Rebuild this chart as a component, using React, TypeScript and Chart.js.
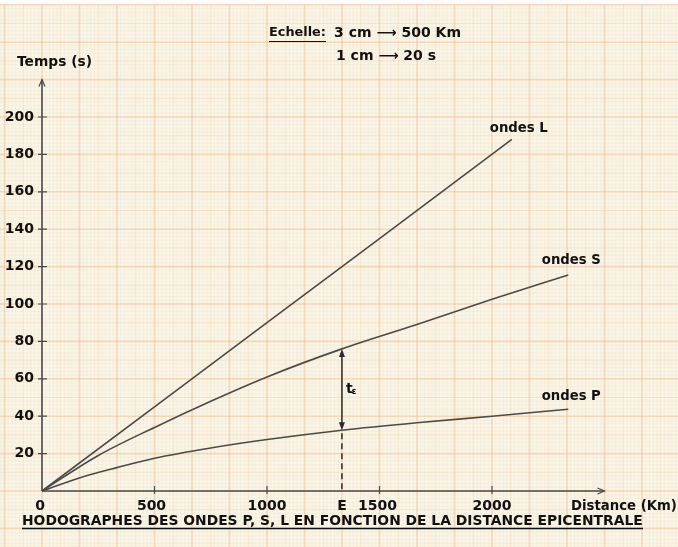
import React, { useEffect, useRef } from "react";
import { Chart, registerables } from "chart.js";

Chart.register(...registerables);

// ---- data (km, s) ----
const distancesL = [0, 500, 1000, 1500, 2088];
const tempsL = [0, 45, 90, 135, 188];
const distancesS = [0, 250, 500, 750, 1000, 1333, 1666, 2000, 2339];
const tempsS = [0, 19, 34, 48, 61, 76, 89, 102.5, 115.5];
const distancesP = [0, 166, 333, 500, 750, 1000, 1333, 1666, 2000, 2339];
const tempsP = [0, 7, 12.5, 17.5, 23, 27.5, 32.5, 36.5, 40, 43.7];
const xTicks = [0, 500, 1000, 1500, 2000];
const yTicks = [20, 40, 60, 80, 100, 120, 140, 160, 180, 200];
const epicentreKm = 1333;
const tE_S = 76;
const tE_P = 32.5;

const FONT = '"DejaVu Sans", Verdana, sans-serif';
const INK = "#111111";
const LINE = "#4a4a4a";

function fitText(
  ctx: CanvasRenderingContext2D,
  text: string,
  x: number,
  y: number,
  width: number,
  align: CanvasTextAlign = "left"
) {
  ctx.font = `bold 13px ${FONT}`;
  const w = ctx.measureText(text).width;
  const size = (13 * width) / w;
  ctx.font = `bold ${size.toFixed(2)}px ${FONT}`;
  ctx.textAlign = align;
  ctx.textBaseline = "middle";
  ctx.fillStyle = INK;
  ctx.fillText(text, x, y);
}

const paperPlugin = {
  id: "paper",
  beforeDraw(chart: any) {
    const { ctx, width, height } = chart;
    const xs = chart.scales.x;
    const ys = chart.scales.y;
    const px = (v: number) => xs.getPixelForValue(v);
    const py = (v: number) => ys.getPixelForValue(v);
    ctx.save();
    ctx.fillStyle = "#fdfcf8";
    ctx.fillRect(0, 0, width, height);
    const left = px(-1000 / 3);
    const top = py(260);
    ctx.fillStyle = "#faf5e6";
    ctx.fillRect(left, top, width - left, height - top);
    const mmX = 500 / 30; // 1 mm in km
    const mmY = 2; // 1 mm in s
    const styleFor = (k: number) => {
      if (k % 10 === 0) {
        ctx.strokeStyle = "rgba(238,192,145,0.55)";
        ctx.lineWidth = 1.6;
      } else if (k % 5 === 0) {
        ctx.strokeStyle = "rgba(238,200,160,0.4)";
        ctx.lineWidth = 1;
      } else {
        ctx.strokeStyle = "rgba(228,210,190,0.3)";
        ctx.lineWidth = 0.6;
      }
    };
    for (let k = -20; k < 300; k++) {
      const p = px(k * mmX);
      if (p < left - 0.5 || p > width + 1) continue;
      styleFor(k);
      ctx.beginPath();
      ctx.moveTo(p, top);
      ctx.lineTo(p, height);
      ctx.stroke();
    }
    for (let k = -40; k < 200; k++) {
      const p = py(k * mmY);
      if (p < top - 0.5 || p > height + 1) continue;
      styleFor(k);
      ctx.beginPath();
      ctx.moveTo(left, p);
      ctx.lineTo(width, p);
      ctx.stroke();
    }
    ctx.restore();
  },
};

const annotPlugin = {
  id: "annot",
  afterDatasetsDraw(chart: any) {
    const { ctx } = chart;
    const xs = chart.scales.x;
    const ys = chart.scales.y;
    const px = (v: number) => xs.getPixelForValue(v);
    const py = (v: number) => ys.getPixelForValue(v);
    const ox = px(0);
    const oy = py(0);
    const xEnd = px(xs.max);
    const yEnd = py(ys.max);
    ctx.save();
    // axes
    ctx.strokeStyle = LINE;
    ctx.lineWidth = 1.6;
    ctx.beginPath();
    ctx.moveTo(ox, oy);
    ctx.lineTo(ox, yEnd);
    ctx.moveTo(ox, oy);
    ctx.lineTo(xEnd, oy);
    ctx.stroke();
    // arrow heads (open)
    ctx.lineWidth = 1.2;
    ctx.beginPath();
    ctx.moveTo(ox - 3, yEnd + 7);
    ctx.lineTo(ox, yEnd);
    ctx.lineTo(ox + 3, yEnd + 7);
    ctx.moveTo(xEnd - 7, oy - 3);
    ctx.lineTo(xEnd, oy);
    ctx.lineTo(xEnd - 7, oy + 3);
    ctx.stroke();
    // ticks
    ctx.lineWidth = 1.2;
    ctx.beginPath();
    for (const t of yTicks) {
      const p = py(t);
      ctx.moveTo(ox - 4, p);
      ctx.lineTo(ox + 5, p);
    }
    for (const t of xTicks) {
      if (t === 0) continue;
      const p = px(t);
      ctx.moveTo(p, oy - 5);
      ctx.lineTo(p, oy + 3);
    }
    ctx.stroke();
    // tick labels
    ctx.fillStyle = INK;
    ctx.font = `bold 14px ${FONT}`;
    ctx.textBaseline = "middle";
    ctx.textAlign = "right";
    for (const t of yTicks) ctx.fillText(String(t), ox - 8, py(t));
    ctx.textAlign = "center";
    for (const t of xTicks) {
      const off = t === 1500 ? -2 : t === 0 ? -2 : t === 500 ? -3 : 0;
      ctx.fillText(String(t), px(t) + off, oy + 15);
    }
    ctx.fillText("E", px(epicentreKm), oy + 15);

    // tE arrow
    const ex = px(epicentreKm);
    const yS = py(tE_S);
    const yP = py(tE_P);
    ctx.strokeStyle = "#2a2a2a";
    ctx.lineWidth = 1.5;
    ctx.beginPath();
    ctx.moveTo(ex, yS + 6);
    ctx.lineTo(ex, yP - 6);
    ctx.stroke();
    ctx.fillStyle = "#2a2a2a";
    ctx.beginPath();
    ctx.moveTo(ex, yS);
    ctx.lineTo(ex - 3, yS + 8);
    ctx.lineTo(ex + 3, yS + 8);
    ctx.closePath();
    ctx.fill();
    ctx.beginPath();
    ctx.moveTo(ex, yP);
    ctx.lineTo(ex - 3, yP - 8);
    ctx.lineTo(ex + 3, yP - 8);
    ctx.closePath();
    ctx.fill();
    ctx.setLineDash([6, 4]);
    ctx.beginPath();
    ctx.moveTo(ex, yP + 3);
    ctx.lineTo(ex, oy);
    ctx.stroke();
    ctx.setLineDash([]);
    ctx.fillStyle = INK;
    ctx.font = `bold 14px ${FONT}`;
    ctx.textAlign = "left";
    ctx.fillText("t", ex + 4, (yS + yP) / 2);
    ctx.font = `bold 9px ${FONT}`;
    ctx.fillText("ε", ex + 9.5, (yS + yP) / 2 + 2);

    // curve labels
    const lastL = distancesL.length - 1;
    const lastS = distancesS.length - 1;
    const lastP = distancesP.length - 1;
    fitText(ctx, "ondes L", px(distancesL[lastL]) + 7, py(tempsL[lastL]) - 11, 58, "center");
    fitText(ctx, "ondes S", px(distancesS[lastS]) + 3, py(tempsS[lastS]) - 14, 59, "center");
    fitText(ctx, "ondes P", px(distancesP[lastP]) + 3, py(tempsP[lastP]) - 13, 59, "center");

    // axis titles
    fitText(ctx, "Temps (s)", 17, 62, 75, "left");
    fitText(ctx, "Distance (Km)", 571, 507, 106, "left");

    // scale box
    fitText(ctx, "Echelle:", 269, 33, 57, "left");
    ctx.strokeStyle = INK;
    ctx.lineWidth = 1.2;
    ctx.beginPath();
    ctx.moveTo(269, 41.5);
    ctx.lineTo(326, 41.5);
    ctx.stroke();
    fitText(ctx, "3 cm ⟶ 500 Km", 334, 33, 127, "left");
    fitText(ctx, "1 cm ⟶ 20 s", 336, 56, 100, "left");

    // caption
    fitText(ctx, "HODOGRAPHES DES ONDES P, S, L EN FONCTION DE LA DISTANCE EPICENTRALE", 22, 521, 621, "left");
    ctx.strokeStyle = INK;
    ctx.lineWidth = 1.5;
    ctx.beginPath();
    ctx.moveTo(22, 528.5);
    ctx.lineTo(643, 528.5);
    ctx.stroke();
    ctx.restore();
  },
};

export default function App() {
  const ref = useRef<HTMLCanvasElement>(null);
  useEffect(() => {
    const canvas = ref.current;
    if (!canvas) return;
    const toPts = (xs: number[], ys: number[]) => xs.map((x, i) => ({ x, y: ys[i] }));
    const chart = new Chart(canvas, {
      type: "line",
      data: {
        datasets: [
          {
            label: "ondes L",
            data: toPts(distancesL, tempsL),
            borderColor: LINE,
            borderWidth: 1.6,
            pointRadius: 0,
            tension: 0,
            clip: false,
          } as any,
          {
            label: "ondes S",
            data: toPts(distancesS, tempsS),
            borderColor: LINE,
            borderWidth: 1.6,
            pointRadius: 0,
            cubicInterpolationMode: "monotone",
            clip: false,
          } as any,
          {
            label: "ondes P",
            data: toPts(distancesP, tempsP),
            borderColor: LINE,
            borderWidth: 1.6,
            pointRadius: 0,
            cubicInterpolationMode: "monotone",
            clip: false,
          } as any,
        ],
      },
      options: {
        responsive: false,
        animation: false,
        devicePixelRatio: 1,
        layout: { padding: { left: 42, right: 73.5, top: 79.6, bottom: 56 } },
        scales: {
          x: { type: "linear", min: 0, max: 2500, display: false },
          y: { type: "linear", min: 0, max: 220, display: false },
        },
        plugins: {
          legend: { display: false },
          tooltip: { enabled: false },
        },
        events: [],
      },
      plugins: [paperPlugin, annotPlugin],
    });
    return () => chart.destroy();
  }, []);
  return (
    <div style={{ position: "fixed", left: 0, top: 0, width: 678, height: 547, background: "#fff" }}>
      <canvas ref={ref} width={678} height={547} style={{ width: 678, height: 547, display: "block" }} />
    </div>
  );
}
